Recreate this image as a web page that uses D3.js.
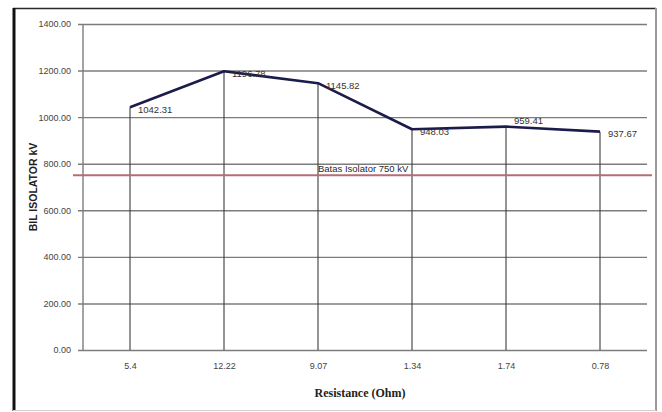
<!DOCTYPE html>
<html>
<head>
<meta charset="utf-8">
<script src="https://cdn.jsdelivr.net/npm/d3@7"></script>
<style>
  html, body { margin: 0; padding: 0; background: #fff; }
  svg { display: block; }
</style>
</head>
<body>
<svg id="chart" width="662" height="412"></svg>
<script>
// Resistance categories (Ohm) and the BIL at each one (kV)
const resistance = ["5.4", "12.22", "9.07", "1.34", "1.74", "0.78"];
const bilValues = [1042.31, 1196.78, 1145.82, 948.03, 959.41, 937.67];
const yTicks = [0, 200, 400, 600, 800, 1000, 1200, 1400];
const limitValue = 750;
const limitLabel = "Batas Isolator 750 kV";
const xTitle = "Resistance (Ohm)";
const yTitle = "BIL ISOLATOR kV";

const svg = d3.select("#chart");
const plot = { left: 83, right: 647, top: 24, bottom: 350 };

const x = d3.scalePoint().domain(resistance).range([plot.left, plot.right]).padding(0.5);
const y = d3.scaleLinear().domain([0, 1400]).range([plot.bottom, plot.top]);

const narrow = "'Liberation Sans Narrow', 'Arial Narrow', 'Liberation Sans', sans-serif";

// outer frame
svg.append("line").attr("x1", 13).attr("x2", 656).attr("y1", 8.5).attr("y2", 8.5)
  .attr("stroke", "#2a2a2a").attr("stroke-width", 1.5);
svg.append("line").attr("x1", 14).attr("x2", 14).attr("y1", 8).attr("y2", 411)
  .attr("stroke", "#111").attr("stroke-width", 3);
svg.append("line").attr("x1", 656).attr("x2", 656).attr("y1", 8).attr("y2", 411)
  .attr("stroke", "#9a9a9a").attr("stroke-width", 2);
svg.append("line").attr("x1", 13).attr("x2", 656).attr("y1", 410.5).attr("y2", 410.5)
  .attr("stroke", "#d0d0d0").attr("stroke-width", 1);

// horizontal gridlines with y axis ticks
const yAxis = d3.axisLeft(y).tickValues(yTicks).tickFormat(d3.format(".2f"))
  .tickSize(-(plot.right - plot.left + 5)).tickPadding(7);
const gy = svg.append("g").attr("transform", `translate(${plot.left - 5},0)`).call(yAxis);
gy.select(".domain").remove();
gy.selectAll(".tick line").attr("stroke", "#7c7c7c").attr("stroke-width", 1.4);
gy.selectAll(".tick text").attr("fill", "#444").style("font-family", narrow).style("font-size", "9px");

// vertical y axis line
svg.append("line").attr("x1", plot.left).attr("x2", plot.left)
  .attr("y1", plot.top).attr("y2", plot.bottom)
  .attr("stroke", "#7c7c7c").attr("stroke-width", 1.4);

// x axis labels
const xAxis = d3.axisBottom(x).tickSize(0).tickPadding(13);
const gx = svg.append("g").attr("transform", `translate(0,${plot.bottom})`).call(xAxis);
gx.select(".domain").remove();
gx.selectAll(".tick text").attr("fill", "#444").style("font-family", narrow).style("font-size", "9px");

// drop lines from each point to the axis
svg.append("g").selectAll("line").data(resistance).join("line")
  .attr("x1", d => x(d)).attr("x2", d => x(d))
  .attr("y1", (d, i) => y(bilValues[i])).attr("y2", plot.bottom)
  .attr("stroke", "#3c3c3c").attr("stroke-width", 1.1);

// limit line
svg.append("line").attr("x1", 73).attr("x2", 652)
  .attr("y1", y(limitValue)).attr("y2", y(limitValue))
  .attr("stroke", "#b46c76").attr("stroke-width", 2);
svg.append("text").attr("x", 318).attr("y", y(limitValue) - 3.5)
  .attr("fill", "#2a2a2a").style("font-family", narrow).style("font-size", "9.5px")
  .text(limitLabel);

// BIL series
const line = d3.line().x((d, i) => x(resistance[i])).y(d => y(d));
svg.append("path").datum(bilValues).attr("d", line)
  .attr("fill", "none").attr("stroke", "#1c1c4c").attr("stroke-width", 2.6)
  .attr("stroke-linejoin", "round");

// value labels, placed right of each point (the 1.74 label sits above it)
svg.append("g").selectAll("text").data(bilValues).join("text")
  .attr("x", (d, i) => x(resistance[i]) + 8)
  .attr("y", (d, i) => y(d) + (i === 4 ? -6 : 2))
  .attr("dy", "0.35em")
  .attr("fill", "#333").style("font-family", narrow).style("font-size", "9.5px")
  .text(d => d.toFixed(2));

// axis titles
svg.append("text").attr("x", 360).attr("y", 397).attr("text-anchor", "middle")
  .attr("fill", "#222").style("font-family", "'Liberation Serif', serif")
  .style("font-weight", "bold").style("font-size", "12px").text(xTitle);
svg.append("text").attr("transform", "translate(37,187) rotate(-90)")
  .attr("text-anchor", "middle").attr("fill", "#222")
  .style("font-family", "'Liberation Sans', sans-serif").style("font-weight", "bold")
  .style("font-size", "10.5px").text(yTitle);
</script>
</body>
</html>
